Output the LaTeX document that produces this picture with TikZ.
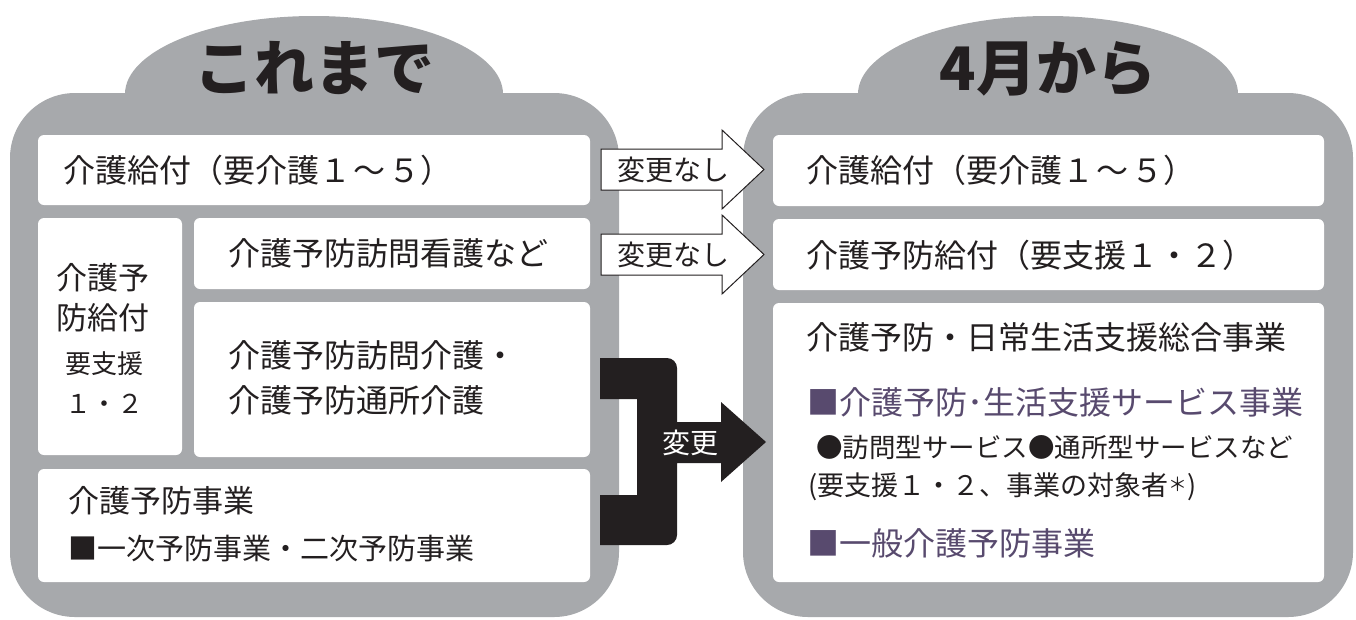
\documentclass[tikz,border=0pt]{standalone}
\usepackage{fontspec}
\usepackage{graphicx}
\setmainfont{Noto Sans CJK JP}
\definecolor{panelgray}{RGB}{167,169,172}
\definecolor{ink}{RGB}{35,31,32}
\definecolor{plum}{RGB}{88,74,110}
\newcommand\fsz[1]{\fontsize{#1}{#1}\selectfont}
\tikzset{
  panel/.style={fill=panelgray, rounded corners=65pt},
  dome/.style={fill=panelgray},
  wbox/.style={fill=white, rounded corners=6pt, inner sep=0, outer sep=0, anchor=north west},
  txt/.style={inner sep=0, outer sep=0, anchor=base west, text=ink},
  ctxt/.style={inner sep=0, outer sep=0, anchor=base, text=ink},
  title/.style={inner sep=0, outer sep=0, anchor=base, text=ink, font=\fsz{60}\bfseries},
  whitearrow/.style={draw=ink, fill=white, line width=1pt},
  blackarrow/.style={fill=ink}
}
\begin{document}
\begin{tikzpicture}[x=1pt,y=-1pt]
\useasboundingbox (0,0) rectangle (1356,619);
% left panel
\fill[dome] (125,94) arc[start angle=180, end angle=360, x radius=189, y radius=78] -- cycle;
\fill[panel] (10,93) rectangle (619,617);
% right panel
\fill[dome] (858,94) arc[start angle=180, end angle=360, x radius=190, y radius=78] -- cycle;
\fill[panel] (743,93) rectangle (1353,617);

\node[title] (tl) at (314,90) {これまで};
\node[title] (tr) at (1048,90) {4月から};

% left boxes
\node[wbox, minimum width=552pt, minimum height=70pt] (L1) at (38,135) {};
\node[wbox, minimum width=144pt, minimum height=237pt] (L2) at (38,218) {};
\node[wbox, minimum width=396pt, minimum height=71pt] (L3) at (194,218) {};
\node[wbox, minimum width=396pt, minimum height=155pt] (L4) at (194,302) {};
\node[wbox, minimum width=552pt, minimum height=113pt] (L5) at (38,469) {};

% right boxes
\node[wbox, minimum width=551pt, minimum height=71pt] (R1) at (773,135) {};
\node[wbox, minimum width=551pt, minimum height=71pt] (R2) at (773,219) {};
\node[wbox, minimum width=551pt, minimum height=279pt] (R3) at (773,303) {};

% left texts
\node[txt, font=\fsz{32}] (l1t) at (63,182) {介護給付（要介護１\kern3pt～\kern3pt５）};
\node[txt, font=\fsz{31}] (l2a) at (56,289) {介護予};
\node[txt, font=\fsz{31}] (l2b) at (56,329) {防給付};
\node[ctxt, font=\fsz{26}] (l2c) at (104,373) {要支援};
\node[ctxt, font=\fsz{26}] (l2d) at (104,413) {１・２};
\node[txt, font=\fsz{32}] (l3t) at (228,265) {介護予防訪問看護など};
\node[txt, font=\fsz{32}] (l4a) at (228,367) {介護予防訪問介護・};
\node[txt, font=\fsz{32}] (l4b) at (228,412) {介護予防通所介護};
\node[txt, font=\fsz{31}] (l5a) at (68,512) {介護予防事業};
\node[txt, font=\fsz{29}] (l5b) at (68,559) {■一次予防事業・二次予防事業};

% right texts
\node[txt, font=\fsz{32}] (r1t) at (806,182) {介護給付（要介護１\kern3pt～\kern3pt５）};
\node[txt, font=\fsz{32}] (r2t) at (806,267) {介護予防給付（要支援１・２）};
\node[txt, font=\fsz{32}] (r3a) at (806,349) {介護予防・日常生活支援総合事業};
\node[txt, font=\fsz{32}, text=plum] (r3b) at (807,414) {■介護予防･生活支援サービス事業};
\node[txt, font=\fsz{26.5}] (r3c) at (816,457) {●訪問型サービス●通所型サービスなど};
\node[txt, font=\fsz{27}] (r3d) at (808,495) {(要支援１・２、事業の対象者\raisebox{0.12em}{\scalebox{0.7}{＊}})};
\node[txt, font=\fsz{32}, text=plum] (r3e) at (807,555) {■一般介護予防事業};

% white arrows
\draw[whitearrow] (601,149) -- (722,149) -- (722,130) -- (764,169.5) -- (722,209) -- (722,190) -- (601,190) -- cycle;
\node[txt, font=\fsz{28}] (a1t) at (617,180.5) {変更なし};
\draw[whitearrow] (601,234) -- (722,234) -- (722,215) -- (764,254.5) -- (722,294) -- (722,275) -- (601,275) -- cycle;
\node[txt, font=\fsz{28}] (a2t) at (617,265) {変更なし};

% black bracket arrow
\fill[blackarrow] (600,358) -- (667,358) arc[start angle=270, end angle=360, radius=10] -- (677,422) -- (721,422) -- (721,402) -- (766,442) -- (721,482) -- (721,463) -- (677,463) -- (677,535) arc[start angle=0, end angle=90, radius=10] -- (600,545) -- (600,495) -- (637,495) -- (637,399) -- (600,399) -- cycle;
\node[ctxt, font=\fsz{28}, text=white] (a3t) at (690,453.5) {変更};
\end{tikzpicture}
\end{document}
